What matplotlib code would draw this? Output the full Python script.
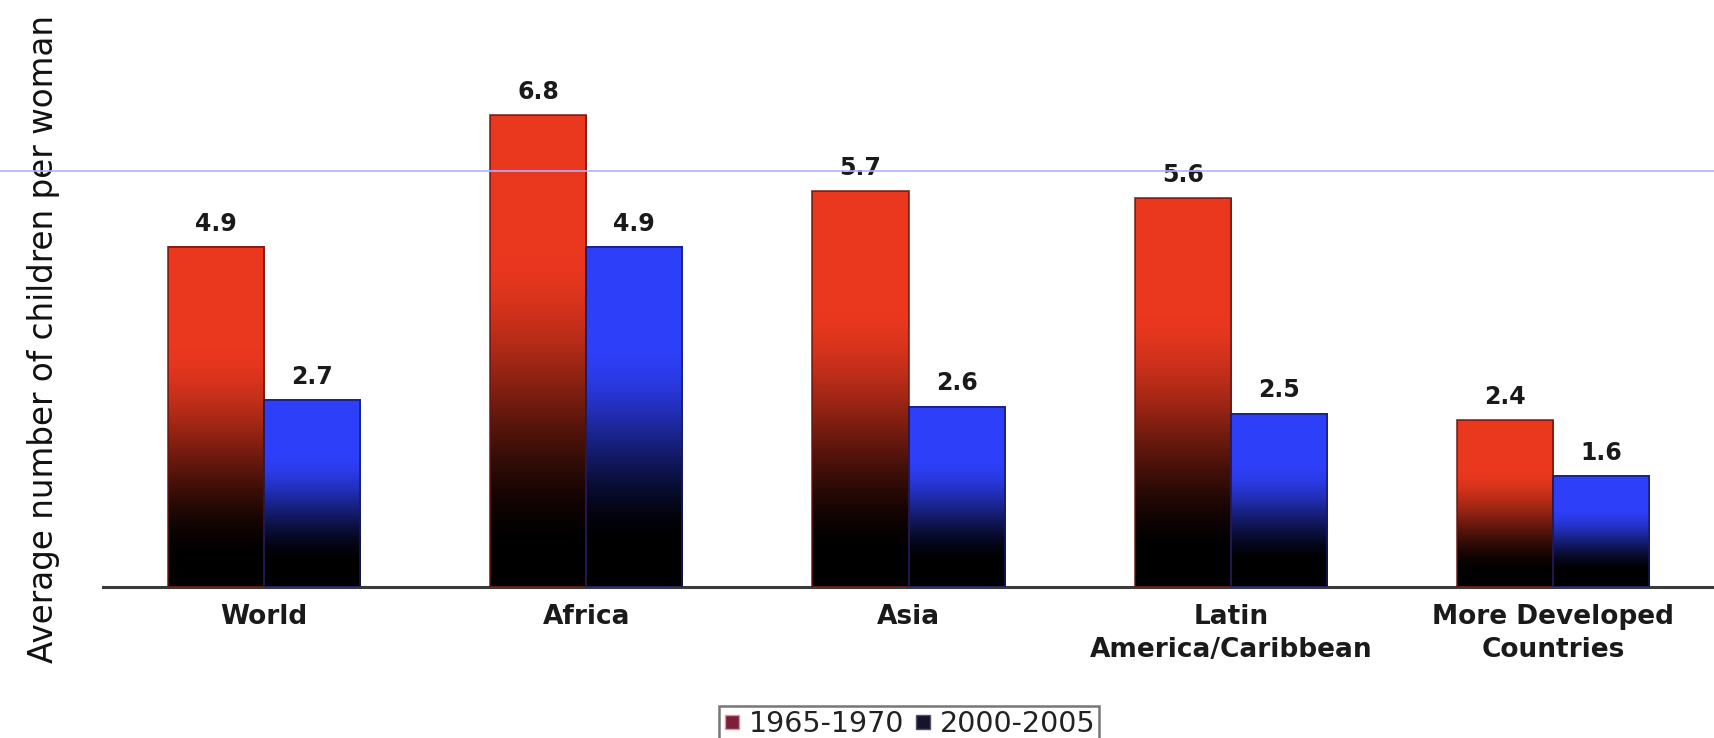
import numpy as np
import matplotlib
matplotlib.use("Agg")
import matplotlib.pyplot as plt
from matplotlib.lines import Line2D
from matplotlib.transforms import blended_transform_factory

# Total fertility rate by region, two periods
regions = ["World", "Africa", "Asia", "Latin\nAmerica/Caribbean", "More Developed\nCountries"]
rate_1965_1970 = [4.9, 6.8, 5.7, 5.6, 2.4]
rate_2000_2005 = [2.7, 4.9, 2.6, 2.5, 1.6]
period_labels = ["1965-1970", "2000-2005"]

W, H, DPI = 1714, 738, 100
fig = plt.figure(figsize=(W / DPI, H / DPI), dpi=DPI)
fig.patch.set_facecolor("white")

# axes area in pixels: left edge of baseline, baseline height, top of figure
ax_left, ax_bottom = 103, 151
ax = fig.add_axes([ax_left / W, ax_bottom / H, (W - ax_left) / W, (H - ax_bottom) / H])
ax.set_xlim(-0.5, 4.5)
ax.set_ylim(0, 587 / 69.4)

for side in ("top", "right", "left"):
    ax.spines[side].set_visible(False)
ax.spines["bottom"].set_color("#3a3a3a")
ax.spines["bottom"].set_linewidth(2.2)
ax.set_xticks([])
ax.set_yticks([])
ax.patch.set_alpha(0)

x = np.arange(len(regions))
bw = 0.298


def gradient_cmap(rgb, lo, hi, n=256):
    """Vertical ramp: black at the base, full colour toward the top."""
    t = np.linspace(0, 1, n)
    s = np.clip((t - lo) / (hi - lo), 0, 1)
    s = s * s * (3 - 2 * s)
    arr = np.outer(s, np.array(rgb))
    return arr[:, None, :]


red_rgb = (0.92, 0.22, 0.12)
blue_rgb = (0.18, 0.25, 0.98)

bars_a = ax.bar(x - bw / 2, rate_1965_1970, width=bw, color="none",
                edgecolor=(0.40, 0.08, 0.06, 0.8), linewidth=1.3, zorder=3)
bars_b = ax.bar(x + bw / 2, rate_2000_2005, width=bw, color="none",
                edgecolor=(0.08, 0.10, 0.40, 0.8), linewidth=1.3, zorder=3)

for bars, rgb, lo, hi in ((bars_a, red_rgb, 0.07, 0.72), (bars_b, blue_rgb, 0.12, 0.72)):
    grad = gradient_cmap(rgb, lo, hi)
    for b in bars:
        x0, w, h = b.get_x(), b.get_width(), b.get_height()
        ax.imshow(grad, origin="lower", extent=(x0, x0 + w, 0, h),
                  aspect="auto", interpolation="bilinear", zorder=2)

# value labels above each bar
for bars, vals in ((bars_a, rate_1965_1970), (bars_b, rate_2000_2005)):
    for b, v in zip(bars, vals):
        ax.annotate(f"{v:.1f}", (b.get_x() + b.get_width() / 2, v),
                    xytext=(0, 8), textcoords="offset points",
                    ha="center", va="bottom", fontsize=17, fontweight="bold",
                    color="#1a1a1a", zorder=6)

# category labels under each group
for xi, name in zip(x, regions):
    ax.text(xi, -0.25, name, ha="center", va="top", fontsize=19,
            fontweight="bold", color="#1a1a1a", linespacing=1.35,
            transform=ax.transData, clip_on=False)

# thin reference line at 6 running across the whole figure
tr = blended_transform_factory(fig.transFigure, ax.transData)
fig.add_artist(Line2D([0, 1], [6.0, 6.0], transform=tr, color="#b0b0ff",
                      linewidth=1.2, zorder=5))

fig.text(44 / W, 1 - 339 / H, "Average number of children per woman",
         rotation=90, ha="center", va="center", fontsize=23.5, color="#111111")

handles = [
    Line2D([], [], linestyle="none", marker="s", markersize=10,
           markerfacecolor="#7a2038", markeredgecolor="#e090a8"),
    Line2D([], [], linestyle="none", marker="s", markersize=10,
           markerfacecolor="#15152a", markeredgecolor="#505070"),
]
leg = fig.legend(handles, period_labels, loc="lower center",
                 bbox_to_anchor=(909 / W, -0.004), ncol=2, frameon=True,
                 fancybox=False, fontsize=20.5, handlelength=0.7,
                 handletextpad=0.25, columnspacing=0.3, borderpad=0.12,
                 borderaxespad=0)
leg.get_frame().set_edgecolor("#555555")
leg.get_frame().set_linewidth(1.8)
for t in leg.get_texts():
    t.set_color("#222222")

fig.savefig("out.png", dpi=DPI, facecolor="white")
